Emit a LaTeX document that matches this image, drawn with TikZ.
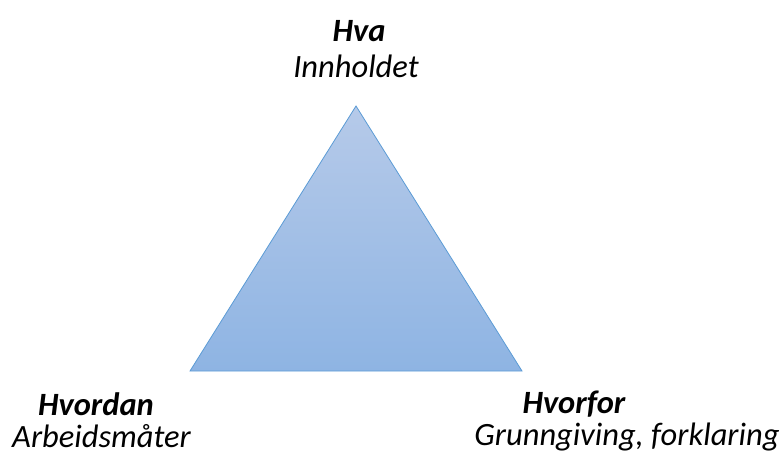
\documentclass[tikz,border=0pt]{standalone}
\usepackage{fontspec}
\setmainfont{Carlito}
\usepackage{tikz}
\usetikzlibrary{positioning}
\definecolor{triTop}{HTML}{B6CAE9}
\definecolor{triBot}{HTML}{8EB4E3}
\definecolor{triEdge}{HTML}{5B9BD5}

\begin{document}
\begin{tikzpicture}[x=1pt, y=-1pt,
  headlbl/.style={font=\fontsize{32.5}{38}\selectfont\bfseries\itshape, inner sep=0pt},
  sublbl/.style={font=\fontsize{32.5}{38}\selectfont\itshape, inner sep=0pt}
]
\useasboundingbox (0,0) rectangle (780,453);

% Triangle
\coordinate (apex) at (356,106);
\coordinate (bl) at (190,371);
\coordinate (br) at (522,371);
\path[top color=triTop, bottom color=triBot, draw=triEdge, line width=0.8pt, line join=miter]
  (apex) -- (bl) -- (br) -- cycle;

% Top corner
\node[headlbl] (hva) at (359,31) {Hva};
\node[sublbl] (innhold) at (356,66) {Innholdet};

% Left corner
\node[headlbl] (hvordan) at (96,404) {Hvordan};
\node[sublbl] (arbeid) at (101.5,436.5) {Arbeidsmåter};

% Right corner
\node[headlbl] (hvorfor) at (574,404) {Hvorfor};
\node[sublbl] (grunn) at (627,437) {Grunngiving, forklaring};

\end{tikzpicture}
\end{document}
